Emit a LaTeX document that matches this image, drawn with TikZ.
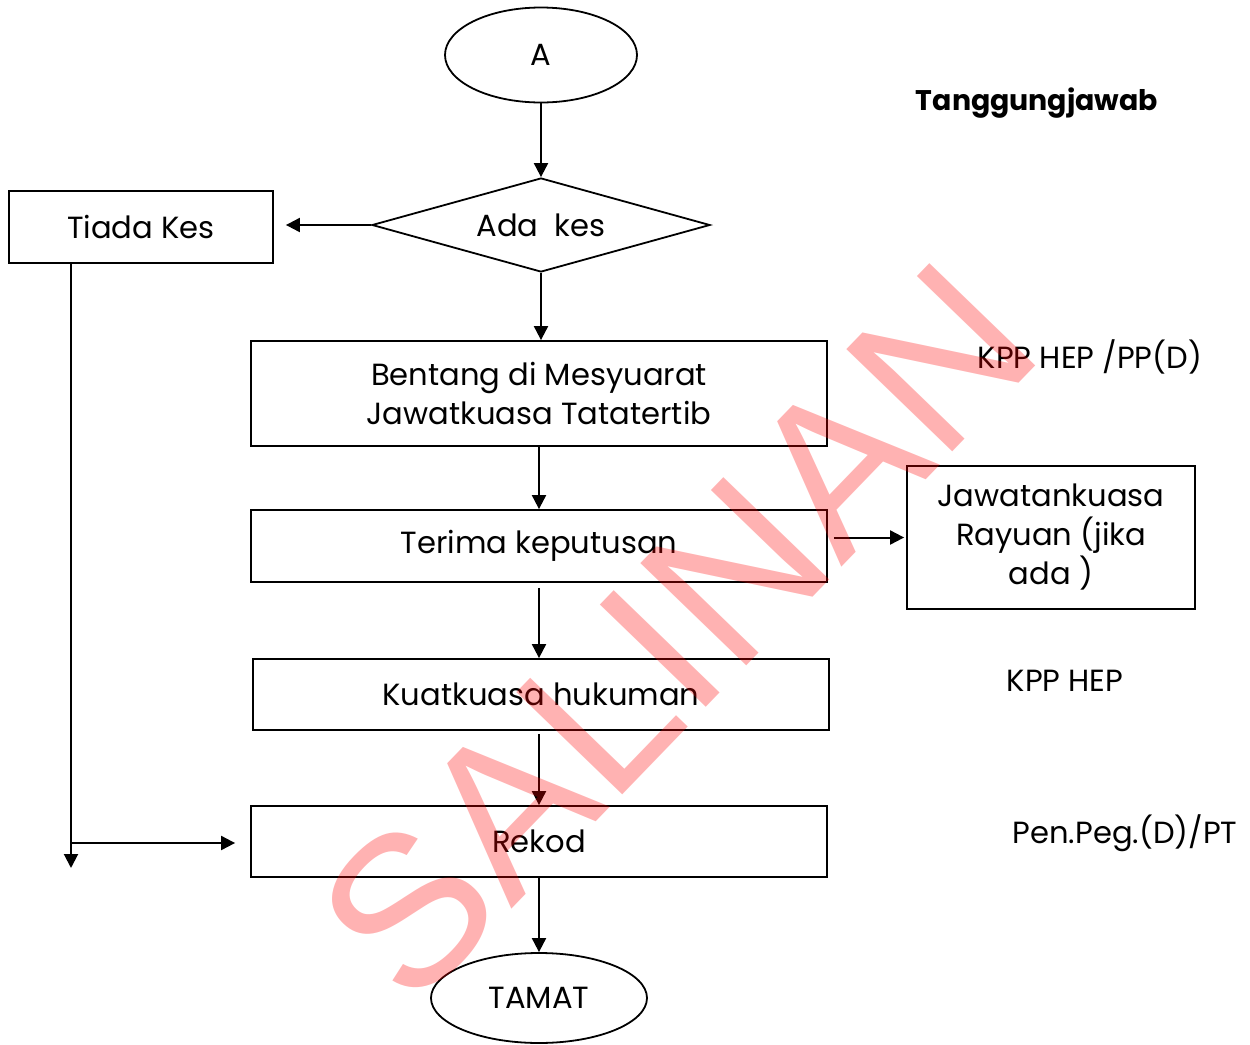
\documentclass[tikz,border=0pt]{standalone}
\usepackage{fontspec}
\setmainfont{Poppins}
\newfontfamily\wmfont{Liberation Sans}
\usetikzlibrary{shapes.geometric,arrows.meta}
\tikzset{
  box/.style={draw,line width=0.9pt,align=center,inner sep=0pt},
  oval/.style={draw,ellipse,line width=0.9pt,inner sep=0pt},
  decide/.style={draw,diamond,aspect=3.6,line width=0.9pt,inner sep=0pt},
  arr/.style={line width=1pt,-{Triangle[length=7pt,width=7pt]}},
  note/.style={inner sep=0pt},
  wm/.style={red,opacity=0.3,rotate=46,inner sep=0pt,font=\wmfont\fontsize{107}{107}\selectfont}
}
\begin{document}
\begin{tikzpicture}[x=0.5pt,y=-0.5pt,font=\fontsize{15.3}{19.5}\selectfont]
  \useasboundingbox[fill=white] (0,0) rectangle (1250,1045);
  % carta alir
  \node[oval,minimum width=96pt,minimum height=47.5pt] (a) at (541,55) {A};
  \node[decide,minimum width=169pt,minimum height=47pt] (ada) at (541,225) {Ada\ \ kes};
  \node[box,minimum width=132pt,minimum height=36pt] (tiada) at (141,227) {Tiada Kes};
  \node[box,minimum width=288pt,minimum height=52.5pt] (bentang) at (539,393.5)
    {Bentang di Mesyuarat\\Jawatkuasa Tatatertib};
  \node[box,minimum width=288pt,minimum height=36pt] (terima) at (539,546) {Terima keputusan};
  \node[box,minimum width=144pt,minimum height=71.5pt] (rayuan) at (1051,537.5)
    {Jawatankuasa\\Rayuan (jika\\ada )};
  \node[box,minimum width=288pt,minimum height=35.5pt] (kuat) at (541,694.5) {Kuatkuasa hukuman};
  \node[box,minimum width=288pt,minimum height=35.5pt] (rekod) at (539,841.5) {Rekod};
  \node[oval,minimum width=108pt,minimum height=45pt] (tamat) at (539,998) {TAMAT};
  % tanggungjawab
  \node[note,font=\fontsize{14.2}{18}\selectfont\bfseries] (tj) at (1037,103) {Tanggungjawab};
  \node[note] (kpp1) at (1090,357) {KPP HEP /PP(D)};
  \node[note] (kpp2) at (1065,681) {KPP HEP};
  \node[note] (pen) at (1125,833) {Pen.Peg.(D)/PT};
  % anak panah
  \coordinate (tiadaend) at (71,868);
  \coordinate (tiadajoin) at (71,843);
  \draw[arr] (a) -- (ada);
  \draw[arr,shorten >=6pt] (ada.west) -- (tiada.east |- ada.west);
  \draw[arr] (ada.south) -- (ada.south |- bentang.north);
  \draw[arr] (bentang) -- (terima);
  \draw[arr,shorten <=2.5pt] (terima.south) -- (terima.south |- kuat.north);
  \draw[arr,shorten <=1.5pt] (terima.south |- kuat.south) -- (terima.south |- rekod.north);
  \draw[arr] (rekod) -- (tamat);
  \draw[arr,shorten <=3pt,shorten >=1pt] (terima.east |- rayuan.west) -- (rayuan.west);
  \draw[arr] (tiada.south -| tiadaend) -- (tiadaend);
  \draw[arr,shorten >=7.5pt] (tiadajoin) -- (rekod.west |- tiadajoin);
  % cop salinan
  \node[wm] (salinan) at (677,632) {SALINAN};
\end{tikzpicture}
\end{document}
